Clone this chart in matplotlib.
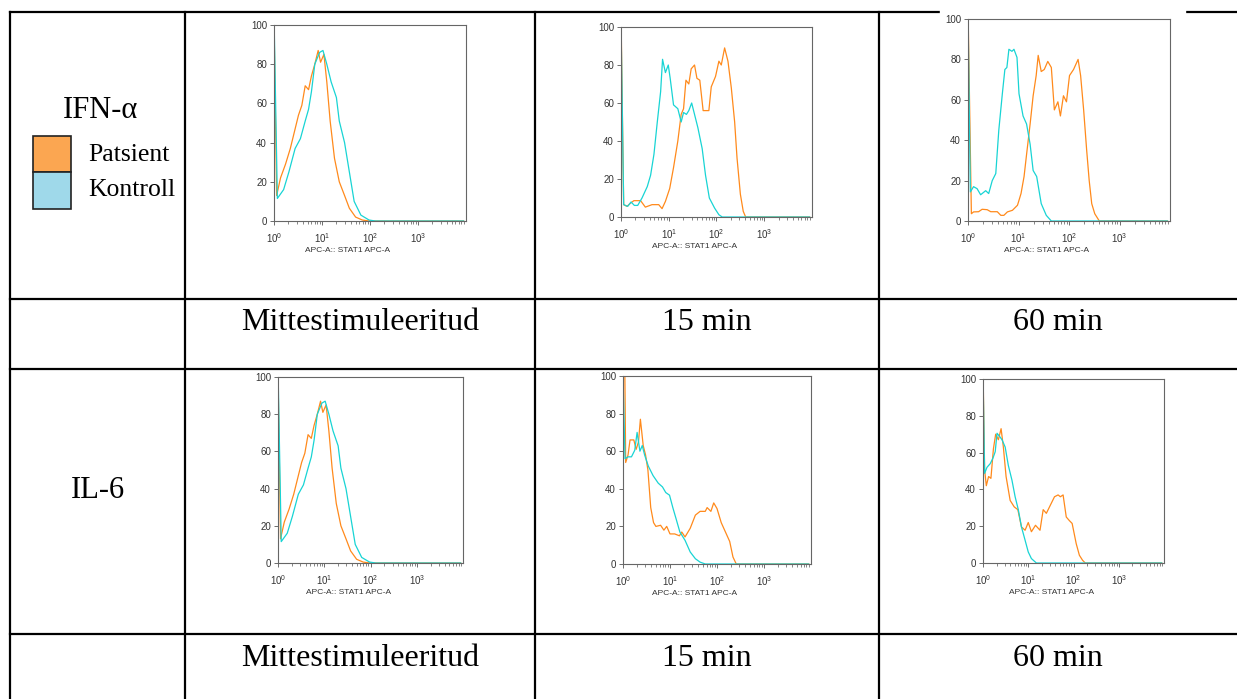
import matplotlib
matplotlib.use('Agg')
import matplotlib.pyplot as plt
import numpy as np
from matplotlib.patches import Rectangle
from matplotlib.ticker import FixedLocator, NullFormatter

plt.rcParams['mathtext.fontset'] = 'custom'
plt.rcParams['mathtext.rm'] = 'Liberation Sans'
plt.rcParams['mathtext.it'] = 'Liberation Sans'

W, H = 1237, 699

# Histogram traces: x as log10(APC-A), y as % of max
# IFN-alpha, unstimulated (the IL-6 unstimulated panel shows the same traces)
ifn0_pat_lx = [0.004, 0.055, 0.136, 0.24, 0.34, 0.44, 0.51, 0.58, 0.65, 0.72, 0.78, 0.85, 0.92,
               0.97, 1.04, 1.10, 1.17, 1.26, 1.36, 1.47, 1.57, 1.70, 1.84, 1.98, 3.95]
ifn0_pat_y = [96, 13, 22, 29, 37, 47, 54, 59, 69, 67, 74, 80, 87,
              81, 85, 71, 51, 32, 20, 13, 6.5, 2, 0.5, 0, 0]
ifn0_ctl_lx = [0.004, 0.07, 0.2, 0.31, 0.44, 0.55, 0.65, 0.72, 0.78, 0.85, 0.95, 1.02, 1.10,
               1.19, 1.30, 1.36, 1.47, 1.57, 1.67, 1.81, 1.98, 2.11, 3.95]
ifn0_ctl_y = [100, 11.5, 16, 25, 37, 42, 51, 57, 66, 80, 86, 87, 80,
              71, 63, 51, 40, 25, 10, 3, 0.5, 0, 0]

# IFN-alpha, 15 min
ifn15_pat_lx = [0.004, 0.056, 0.126, 0.2, 0.27, 0.41, 0.51, 0.65, 0.79, 0.86, 0.93, 1.02, 1.10,
                1.19, 1.26, 1.31, 1.36, 1.42, 1.47, 1.54, 1.59, 1.65, 1.72, 1.84, 1.89, 1.98,
                2.05, 2.10, 2.17, 2.24, 2.31, 2.38, 2.43, 2.50, 2.56, 2.61, 3.95]
ifn15_pat_y = [100, 6.5, 5.6, 7.3, 8.6, 8.6, 5.2, 6.5, 6.5, 4.4, 8.2, 15, 26,
               40, 54, 57, 72, 70, 78, 80, 73, 72, 56, 56, 68.5, 74,
               82, 80, 89, 82, 68, 50, 31, 12, 3, 0, 0]
ifn15_ctl_lx = [0.004, 0.056, 0.14, 0.21, 0.28, 0.35, 0.44, 0.55, 0.62, 0.69, 0.76, 0.83, 0.87,
                0.93, 0.99, 1.03, 1.10, 1.19, 1.26, 1.31, 1.37, 1.42, 1.48, 1.54, 1.61, 1.70,
                1.77, 1.85, 1.96, 2.05, 2.12, 3.95]
ifn15_ctl_y = [96, 6.5, 5.6, 7.9, 6.1, 6.1, 10, 16, 22, 33, 50, 66, 83,
               76, 80, 73, 59, 57, 50, 55, 54, 56, 60, 54, 47, 36,
               22, 10, 4.7, 1.2, 0, 0]

# IFN-alpha, 60 min
ifn60_pat_lx = [0.004, 0.067, 0.11, 0.21, 0.28, 0.38, 0.45, 0.58, 0.65, 0.71, 0.78, 0.88, 0.98,
                1.05, 1.11, 1.16, 1.23, 1.29, 1.35, 1.39, 1.45, 1.51, 1.58, 1.65, 1.71, 1.78,
                1.83, 1.89, 1.95, 2.01, 2.09, 2.18, 2.23, 2.29, 2.35, 2.40, 2.45, 2.51, 2.60, 3.95]
ifn60_pat_y = [100, 3.6, 4.5, 4.6, 5.8, 5.6, 4.6, 4.6, 2.8, 2.8, 4.5, 5.3, 7.8,
               13.6, 22, 33, 48, 62, 72, 82, 74, 75, 79, 76, 55, 59,
               52, 62, 59, 72, 75, 80, 72, 55, 35, 20, 8.6, 3.6, 0, 0]
ifn60_ctl_lx = [0.004, 0.047, 0.11, 0.18, 0.25, 0.35, 0.41, 0.48, 0.55, 0.61, 0.68, 0.73, 0.77,
                0.81, 0.87, 0.91, 0.97, 1.01, 1.09, 1.16, 1.23, 1.29, 1.36, 1.45, 1.55, 1.65, 3.95]
ifn60_ctl_y = [96, 14.4, 17, 16, 13, 15, 13.6, 20, 23.5, 45, 63, 75, 76,
               85, 84, 85, 81, 63, 52, 48, 38, 25, 22, 8.6, 2.8, 0, 0]

# IL-6, 15 min
il6_15_pat_lx = [0.004, 0.04, 0.057, 0.107, 0.15, 0.23, 0.28, 0.33, 0.37, 0.43, 0.48, 0.53, 0.59,
                 0.65, 0.70, 0.80, 0.87, 0.93, 1.0, 1.1, 1.2, 1.25, 1.32, 1.43, 1.54, 1.64,
                 1.75, 1.79, 1.87, 1.93, 2.0, 2.09, 2.18, 2.27, 2.34, 2.41, 3.95]
il6_15_pat_y = [100, 100, 54, 58, 66, 66, 61, 65, 77, 63, 58, 50, 30,
                22, 20, 20.6, 18, 20, 16, 16, 15, 17, 14.4, 19, 26, 28,
                28, 30, 28, 32.5, 29.5, 22, 17, 12, 3.7, 0, 0]
il6_15_ctl_lx = [0.004, 0.043, 0.107, 0.18, 0.25, 0.30, 0.36, 0.41, 0.46, 0.54, 0.64, 0.75,
                 0.84, 0.91, 0.99, 1.06, 1.13, 1.21, 1.32, 1.43, 1.54, 1.64, 1.75, 3.95]
il6_15_ctl_y = [96, 56, 57, 57, 60.5, 70, 60, 63, 58, 52, 47, 43,
                41, 38, 36.6, 30, 24, 17, 12.6, 6.4, 2.8, 1, 0, 0]

# IL-6, 60 min
il6_60_pat_lx = [0.004, 0.036, 0.073, 0.124, 0.175, 0.23, 0.28, 0.34, 0.40, 0.45, 0.51, 0.60,
                 0.69, 0.77, 0.85, 0.93, 1.0, 1.07, 1.16, 1.26, 1.33, 1.40, 1.50, 1.58, 1.66,
                 1.71, 1.77, 1.84, 1.91, 1.97, 2.06, 2.13, 2.20, 2.26, 3.95]
il6_60_pat_y = [100, 50.5, 42, 47, 46, 62, 70, 67, 73, 63, 47, 34,
                30.5, 29, 19.6, 17.8, 22, 17, 20.5, 17.8, 29, 27, 32, 36, 37,
                36, 37, 25, 23, 21.5, 10.5, 4.2, 1.5, 0, 0]
il6_60_ctl_lx = [0.004, 0.036, 0.088, 0.16, 0.22, 0.27, 0.31, 0.36, 0.42, 0.49, 0.56, 0.64,
                 0.71, 0.78, 0.85, 0.93, 1.0, 1.07, 1.18, 3.95]
il6_60_ctl_y = [97, 48.7, 52, 54, 57, 60.5, 70.5, 69, 67, 63, 53, 45,
                36, 29, 19.6, 12.4, 6, 2.4, 0, 0]

col_labels = ['Mittestimuleeritud', '15 min', '60 min']
row_labels = ['IFN-\u03b1', 'IL-6']
legend_labels = ['Patsient', 'Kontroll']
x_label = 'APC-A:: STAT1 APC-A'

PAT_LINE = '#ff8a1c'
CTL_LINE = '#18d4d4'
PAT_BOX = '#fba651'
CTL_BOX = '#9fd9ea'

fig = plt.figure(figsize=(W / 100, H / 100), dpi=100)

# table grid drawn in pixel coordinates
bg = fig.add_axes([0, 0, 1, 1])
bg.set_xlim(0, W)
bg.set_ylim(H, 0)
bg.axis('off')
for x in [10, 185, 535, 879]:
    bg.plot([x, x], [12, H], color='black', lw=1.6, solid_capstyle='projecting')
for y in [12, 299, 369, 634]:
    bg.plot([10, W], [y, y], color='black', lw=1.6, solid_capstyle='projecting')
# the pasted 60 min image covers part of the top border
bg.add_patch(Rectangle((940, 9), 245, 7, color='white', zorder=3))

serif = 'Liberation Serif'
bg.text(100, 118, row_labels[0], ha='center', va='baseline', fontsize=22, family=serif)
bg.text(98, 491, row_labels[1], ha='center', va='center', fontsize=22, family=serif)
bg.add_patch(Rectangle((33, 136), 38, 36, facecolor=PAT_BOX, edgecolor='#222222', lw=1.2))
bg.add_patch(Rectangle((33, 172), 38, 37, facecolor=CTL_BOX, edgecolor='#222222', lw=1.2))
bg.text(88, 155, legend_labels[0], ha='left', va='center', fontsize=18.5, family=serif)
bg.text(88, 190, legend_labels[1], ha='left', va='center', fontsize=18.5, family=serif)
for cx, lab in zip([360, 707, 1058], col_labels):
    bg.text(cx, 322, lab, ha='center', va='center', fontsize=23, family=serif)
    bg.text(cx, 658, lab, ha='center', va='center', fontsize=23, family=serif)


def add_hist(box, pat_lx, pat_y, ctl_lx, ctl_y):
    l, t, r, b = box
    ax = fig.add_axes([l / W, 1 - b / H, (r - l) / W, (b - t) / H])
    ax.set_xscale('log')
    ax.plot(10 ** np.array(pat_lx), pat_y, color=PAT_LINE, lw=0.9)
    ax.plot(10 ** np.array(ctl_lx), ctl_y, color=CTL_LINE, lw=0.9)
    ax.set_xlim(1, 1e4)
    ax.set_ylim(0, 100)
    ax.set_yticks([0, 20, 40, 60, 80, 100])
    ax.xaxis.set_major_locator(FixedLocator([1, 10, 100, 1000]))
    ax.set_xticklabels(['$10^0$', '$10^1$', '$10^2$', '$10^3$'])
    minors = [m * 10 ** d for d in range(4) for m in range(2, 10)]
    ax.xaxis.set_minor_locator(FixedLocator(minors))
    ax.xaxis.set_minor_formatter(NullFormatter())
    for s in ax.spines.values():
        s.set_color('#666666')
        s.set_linewidth(0.8)
    ax.tick_params(axis='both', which='major', labelsize=7, length=3, width=0.6,
                   color='#555555', labelcolor='#333333', pad=2)
    ax.tick_params(axis='x', which='major', pad=4)
    ax.tick_params(axis='x', which='minor', length=1.8, width=0.5, color='#555555')
    for lab in ax.get_yticklabels():
        lab.set_family('Liberation Sans')
    ax.set_xlabel(x_label, fontsize=6, family='Liberation Sans', color='#333333')
    # the label is centred under the whole picture, not the plotting box
    ax.xaxis.set_label_coords(0.5 - 22 / (r - l), -26 / (b - t))
    return ax


add_hist((274, 25, 466, 221), ifn0_pat_lx, ifn0_pat_y, ifn0_ctl_lx, ifn0_ctl_y)
add_hist((621, 27, 812, 217), ifn15_pat_lx, ifn15_pat_y, ifn15_ctl_lx, ifn15_ctl_y)
add_hist((968, 19, 1170, 221), ifn60_pat_lx, ifn60_pat_y, ifn60_ctl_lx, ifn60_ctl_y)
add_hist((278, 377, 463, 563), ifn0_pat_lx, ifn0_pat_y, ifn0_ctl_lx, ifn0_ctl_y)
add_hist((623, 376, 811, 564), il6_15_pat_lx, il6_15_pat_y, il6_15_ctl_lx, il6_15_ctl_y)
add_hist((983, 379, 1164, 563), il6_60_pat_lx, il6_60_pat_y, il6_60_ctl_lx, il6_60_ctl_y)

fig.savefig('out.png', dpi=100, facecolor='white')
